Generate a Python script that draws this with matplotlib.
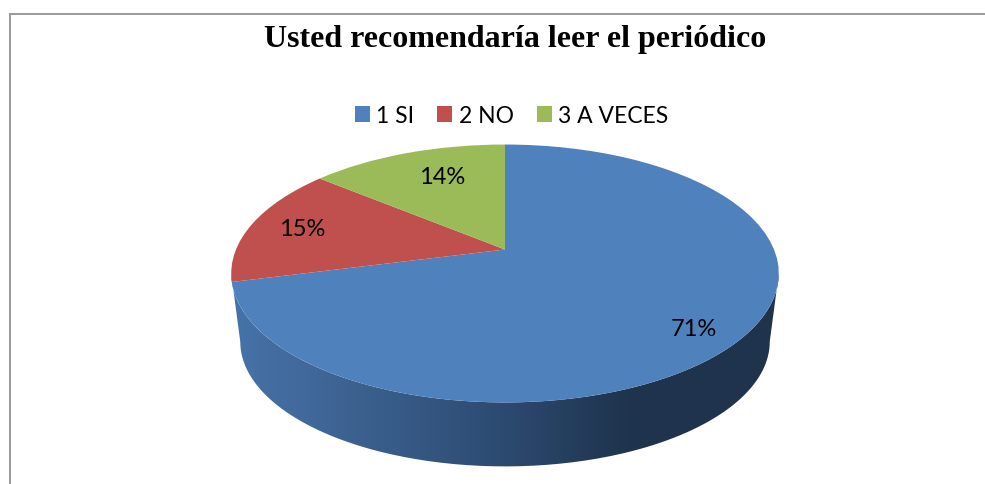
import numpy as np
from matplotlib import pyplot as plt
from matplotlib.colors import LinearSegmentedColormap
from matplotlib.path import Path
from matplotlib.transforms import Transform

title = "Usted recomendaría leer el periódico"
categories = ["1 SI", "2 NO", "3 A VECES"]
values = [71, 15, 14]
colors = ["#4F81BD", "#C0504D", "#9BBB59"]
label_pos = [(694, 330), (302, 230), (442, 178)]

# pie geometry in image pixels, tilted disc with perspective
apex_x, apex_y = 505, 250.5
radius_x, radius_y = 269, 124.5
tilt = 0.186
depth_y, depth_scale = 69, 0.967


class Tilted(Transform):
    input_dims = output_dims = 2

    def __init__(self, y0=apex_y, scale=1.0):
        super().__init__()
        self.y0 = y0
        self.scale = scale

    def transform_non_affine(self, xy):
        xy = np.asarray(xy)
        d = 1 + tilt * xy[:, 1]
        return np.column_stack([apex_x + self.scale * radius_x * xy[:, 0] / d,
                                self.y0 - self.scale * radius_y * xy[:, 1] / d])


fig = plt.figure(figsize=(9.85, 4.85), dpi=100)
ax = fig.add_axes([0, 0, 1, 1])

wedges, _, autotexts = ax.pie(values, colors=colors, startangle=90, counterclock=False,
                              autopct="%.0f%%", labels=None)
ax.set_aspect("auto")
ax.set_xlim(0, 985)
ax.set_ylim(485, 0)
ax.axis("off")

top = Tilted()
for w in wedges:
    w.set_transform(top + ax.transData)
    w.set_linewidth(0)
    w.set_zorder(3)

for t, pos in zip(autotexts, label_pos):
    t.set_position(pos)
    t.set_transform(ax.transData)
    t.set_fontfamily("Lato")
    t.set_fontsize(17)
    t.set_color("black")
    t.set_ha("center")
    t.set_va("center")
    t.set_zorder(5)

# side wall, shaded left to right
a = np.arcsin(tilt)
theta = np.linspace(np.pi + a, 2 * np.pi - a, 200)
rim = np.column_stack([np.cos(theta), np.sin(theta)])
upper = top.transform_non_affine(rim)
lower = Tilted(apex_y + depth_y, depth_scale).transform_non_affine(rim)
wall = np.vstack([upper, lower[::-1]])

shade = LinearSegmentedColormap.from_list("wall", [(0, "#4573A9"), (0.12, "#426A9C"), (0.5, "#2C4A70"),
                                                   (0.72, "#1F344E"), (1, "#1F334D")])
img = ax.imshow(np.linspace(0, 1, 256).reshape(1, -1), cmap=shade, aspect="auto",
                extent=(231, 779, 485, 200), zorder=2)
ax.set_xlim(0, 985)
ax.set_ylim(485, 0)
img.set_clip_path(Path(wall), ax.transData)

# chart frame, the right and bottom sides are cut off
ax.plot([10, 10, 985], [485, 14.5, 14.5], color="#9A9A9A", lw=1.4, solid_joinstyle="miter", zorder=1)

ax.text(515, 39, title, family="Liberation Serif", weight="bold", fontsize=23, ha="center", va="center")

ax.legend(wedges, categories, ncol=3, loc="center", bbox_to_anchor=(511.5 / 985, 1 - 116.5 / 485),
          frameon=False, prop={"family": "Lato", "size": 16.5}, handlelength=0.66, handleheight=0.66,
          handletextpad=0.28, columnspacing=1.0, borderpad=0)

fig.savefig("out.png", dpi=100)
